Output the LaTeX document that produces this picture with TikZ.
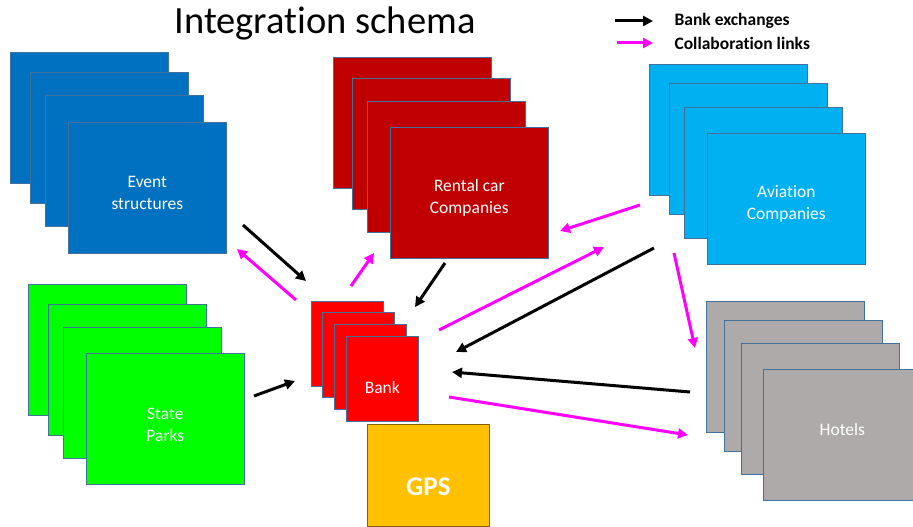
\documentclass[tikz,border=0pt]{standalone}
\usepackage{fontspec}
\setmainfont{Carlito}[Ligatures=NoCommon]
\usetikzlibrary{arrows.meta}
\definecolor{evtblue}{HTML}{0070C0}
\definecolor{carred}{HTML}{C00000}
\definecolor{airblue}{HTML}{00B0F0}
\definecolor{hotgray}{HTML}{AEAAAA}
\definecolor{parkgreen}{HTML}{00FF00}
\definecolor{bankred}{HTML}{FF0000}
\definecolor{gpsgold}{HTML}{FFC000}
\definecolor{linkpink}{HTML}{FF00FF}
\definecolor{edgeblue}{HTML}{41719C}

\begin{document}
\begin{tikzpicture}[x=1pt,y=-1pt,
		card/.style={draw=edgeblue,line width=0.7pt,anchor=north west,inner sep=0pt,
			minimum width=158pt,minimum height=131pt},
		smallcard/.style={card,minimum width=72pt,minimum height=85pt},
		lbl/.style={text=white,align=center,font=\fontsize{17.5}{21.5}\selectfont},
		legendtxt/.style={anchor=west,font=\bfseries\fontsize{17.5}{20}\selectfont},
		>={Triangle[length=10pt,width=10pt]},
		bankx/.style={->,line width=3pt,black},
		collab/.style={->,line width=3pt,linkpink}]
	\useasboundingbox (0,0) rectangle (913,527);
	\node[anchor=base,font=\fontsize{38.5}{44}\selectfont] (title) at (325,34) {Integration schema};
	% legend
	\coordinate (lgb1) at (615,21); \coordinate (lgb2) at (653,21);
	\coordinate (lgm1) at (617,43); \coordinate (lgm2) at (653,43);
	\node[legendtxt] (lgbtxt) at (671,21) {Bank exchanges};
	\node[legendtxt] (lgmtxt) at (671,43) {Collaboration links};
	\path[bankx] (lgb1) edge (lgb2);
	\path[collab] (lgm1) edge (lgm2);
	% event structures
	\node[card,fill=evtblue] (evt1) at (10,52) {};
	\node[card,fill=evtblue] (evt2) at (30,72) {};
	\node[card,fill=evtblue] (evt3) at (45,95) {};
	\node[card,fill=evtblue] (evt4) at (68,122) {};
	\node[lbl] at ([yshift=-5pt]evt4.center) {Event\\structures};
	% rental cars
	\node[card,fill=carred] (car1) at (333,57) {};
	\node[card,fill=carred] (car2) at (352,78) {};
	\node[card,fill=carred] (car3) at (367,101) {};
	\node[card,fill=carred] (car4) at (390,127) {};
	\node[lbl] at ([yshift=-5pt]car4.center) {Rental car\\Companies};
	% aviation
	\node[card,fill=airblue] (air1) at (649,64) {};
	\node[card,fill=airblue] (air2) at (669,83) {};
	\node[card,fill=airblue] (air3) at (684,107) {};
	\node[card,fill=airblue] (air4) at (707,133) {};
	\node[lbl] at ([yshift=-5pt]air4.center) {Aviation\\Companies};
	% state parks
	\node[card,fill=parkgreen] (park1) at (28,284) {};
	\node[card,fill=parkgreen] (park2) at (48,304) {};
	\node[card,fill=parkgreen] (park3) at (63,327) {};
	\node[card,fill=parkgreen] (park4) at (86,353) {};
	\node[lbl] at ([yshift=-6pt]park4.center) {State\\Parks};
	% hotels
	\node[card,fill=hotgray] (hot1) at (706,301) {};
	\node[card,fill=hotgray] (hot2) at (724,320) {};
	\node[card,fill=hotgray] (hot3) at (741,343) {};
	\node[card,fill=hotgray] (hot4) at (763,369) {};
	\node[lbl] at ([yshift=5pt]hot4.center) {Hotels};
	% bank
	\node[smallcard,fill=bankred] (bank1) at (311,301) {};
	\node[smallcard,fill=bankred] (bank2) at (322,312) {};
	\node[smallcard,fill=bankred] (bank3) at (334,324) {};
	\node[smallcard,fill=bankred] (bank4) at (346,336) {};
	\node[lbl] at ([yshift=-9pt]bank4.center) {Bank};
	% gps
	\node[card,fill=gpsgold,minimum width=122pt,minimum height=102pt,draw=black!50!gpsgold] (gps) at (367,424) {};
	\node[text=white,font=\bfseries\fontsize{27}{30}\selectfont] at ([yshift=-11pt]gps.center) {GPS};
	% arrow ends
	\coordinate (evtout) at (243,225);  \coordinate (evtin) at (237,249);
	\coordinate (parkout) at (254,396);
	\coordinate (carout) at (445,263);  \coordinate (carin) at (374,253);
	\coordinate (airout) at (654,248);  \coordinate (airin) at (604,247);
	\coordinate (airtocar) at (640,205); \coordinate (carfromair) at (560,231);
	\coordinate (airtohot) at (674,253); \coordinate (hotfromair) at (695,348);
	\coordinate (hotout) at (690,392);  \coordinate (hotin) at (688,435);
	\coordinate (bankinA) at (306,281); \coordinate (bankinB) at (295,381);
	\coordinate (bankinC) at (415,307); \coordinate (bankinD) at (456,352);
	\coordinate (bankinE) at (452,372);
	\coordinate (bankoutA) at (296,300); \coordinate (bankoutB) at (351,286);
	\coordinate (bankoutC) at (439,330); \coordinate (bankoutD) at (449,397);
	\path[bankx]
	(evtout) edge (bankinA)
	(parkout) edge (bankinB)
	(carout) edge (bankinC)
	(airout) edge (bankinD)
	(hotout) edge (bankinE);
	\path[collab]
	(bankoutA) edge (evtin)
	(bankoutB) edge (carin)
	(bankoutC) edge (airin)
	(bankoutD) edge (hotin)
	(airtocar) edge (carfromair)
	(airtohot) edge (hotfromair);
\end{tikzpicture}
\end{document}
